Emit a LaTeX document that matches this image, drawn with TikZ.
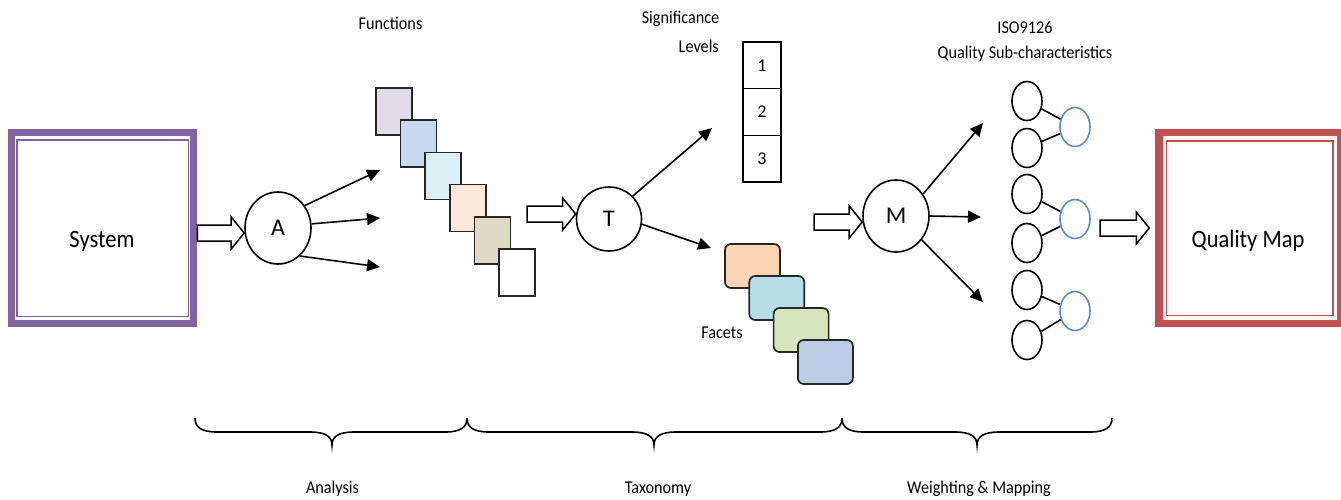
\documentclass[tikz,border=0pt]{standalone}
\usepackage{fontspec}
\setmainfont{Carlito}
\usepackage{graphicx}
\usetikzlibrary{arrows.meta,calc,shapes.geometric}
\definecolor{sysPurple}{HTML}{8064A2}
\definecolor{qmRed}{HTML}{C0504D}
\definecolor{subBlue}{HTML}{5B8CC8}
\definecolor{fnA}{HTML}{E1DBEA}
\definecolor{fnB}{HTML}{C6D9F0}
\definecolor{fnC}{HTML}{DAEEF3}
\definecolor{fnD}{HTML}{FDE9D9}
\definecolor{fnE}{HTML}{DDD9C4}
\definecolor{fcA}{HTML}{FBD4B4}
\definecolor{fcB}{HTML}{B7DEE8}
\definecolor{fcC}{HTML}{D7E4BD}
\definecolor{fcD}{HTML}{B9CDE5}
\newcommand{\nar}[1]{\scalebox{0.9}[1]{#1}}
\newcommand{\fatarrow}[2]{%
  \draw[fatarr] let \p1=(#1), \p2=(#2) in
    (\x1,\y1+8pt) -- (\x2-13pt,\y1+8pt) -- (\x2-13pt,\y1+16pt) -- (\x2,\y1)
    -- (\x2-13pt,\y1-16pt) -- (\x2-13pt,\y1-8pt) -- (\x1,\y1-8pt) -- cycle;}
\newcommand{\curlybrace}[3]{%
  \draw[brc] (#1,418) .. controls (#1,427) and (#1+6,432) .. (#1+22,432)
    -- (#2-22,432) .. controls (#2-6,432) and (#2,437) .. (#2,445)
    .. controls (#2,437) and (#2+6,432) .. (#2+22,432)
    -- (#3-22,432) .. controls (#3-6,432) and (#3,427) .. (#3,418);}
\tikzset{
  bigbox/.style={rectangle, draw, line width=7.5pt, minimum width=182pt, minimum height=191pt, inner sep=0pt},
  innerbox/.style={line width=1.5pt},
  bigtxt/.style={font=\fontsize{25}{30}\selectfont, inner sep=0pt},
  proc/.style={ellipse, draw, line width=1.6pt, inner sep=0pt, font=\fontsize{24}{28}\selectfont},
  fnbox/.style={rectangle, draw=black!85, line width=1.7pt, minimum width=36pt, minimum height=47pt, inner sep=0pt},
  facet/.style={rectangle, rounded corners=6pt, draw=black!85, line width=1.7pt, minimum width=55pt, minimum height=44pt, inner sep=0pt},
  level/.style={rectangle, draw, line width=1.6pt, minimum width=38pt, minimum height=46.7pt, inner sep=0pt, font=\fontsize{18}{21}\selectfont},
  sub/.style={ellipse, draw, line width=1.6pt, minimum width=30pt, minimum height=39pt, inner sep=0pt},
  subline/.style={line width=1.6pt},
  arr/.style={line width=1.6pt, -{Triangle[length=13pt,width=12pt]}},
  lab/.style={font=\fontsize{18}{21}\selectfont, inner sep=0pt, anchor=base},
  fatarr/.style={draw, line width=1.5pt, fill=white, line join=miter},
  brc/.style={line width=1.6pt},
}
\begin{document}
\begin{tikzpicture}[x=1pt,y=-1pt]
\useasboundingbox (0,0) rectangle (1341,499);

% big boxes
\node[bigbox, draw=sysPurple] (sys) at (102.5,228) {};
\draw[innerbox, draw=sysPurple] ($(sys.north west)+(9,11)$) rectangle ($(sys.south east)+(-9,-11)$);
\node[bigtxt, anchor=base] (systxt) at (102,247) {\nar{System}};

\node[bigbox, draw=qmRed] (qm) at (1250,228) {};
\draw[innerbox, draw=qmRed] ($(qm.north west)+(11,12)$) rectangle ($(qm.south east)+(-12,-12)$);
\node[bigtxt, anchor=base] (qmtxt) at (1248,247) {\nar{Quality Map}};

% process circles
\node[proc, minimum width=66pt, minimum height=72pt] (A) at (278,228) {A};
\node[proc, minimum width=65pt, minimum height=64pt] (T) at (609,219) {T};
\node[proc, minimum width=66pt, minimum height=72pt] (M) at (896,216) {M};

% function squares
\node[fnbox, fill=fnA] (f1) at (394,111.5) {};
\node[fnbox, fill=fnB] (f2) at (418.6,143.7) {};
\node[fnbox, fill=fnC] (f3) at (443.2,175.9) {};
\node[fnbox, fill=fnD] (f4) at (467.8,208.1) {};
\node[fnbox, fill=fnE] (f5) at (492.4,240.3) {};
\node[fnbox, fill=white] (f6) at (517,272.5) {};
\node[lab] (funT) at (390.5,29) {\nar{Functions}};

% significance levels
\node[level] (s1) at (762,65.3) {1};
\node[level] (s2) at (762,112) {2};
\node[level] (s3) at (762,158.7) {3};
\node[lab] (sigT) at (680.5,23) {\nar{Significance}};
\node[lab, anchor=base east] (levT) at (719,52) {\nar{Levels}};

% facets
\node[facet, fill=fcA] (k1) at (752.5,266) {};
\node[facet, fill=fcB] (k2) at (776.8,298) {};
\node[facet, fill=fcC] (k3) at (801.1,330) {};
\node[facet, fill=fcD] (k4) at (825.4,362) {};
\node[lab] (facT) at (722,338) {\nar{Facets}};

% sub-characteristics
\foreach \i/\y in {1/101,2/148,3/194,4/243,5/290,6/340}
  \node[sub] (c\i) at (1027,\y) {};
\foreach \i/\y in {1/127,2/219,3/311}
  \node[sub, draw=subBlue] (b\i) at (1075,\y) {};
\draw[subline] (c1) -- (b1);
\draw[subline] (c2) -- (b1);
\draw[subline] (c3) -- (b2);
\draw[subline] (c4) -- (b2);
\draw[subline] (c5) -- (b3);
\draw[subline] (c6) -- (b3);
\node[lab] (isoT) at (1025,33) {\nar{ISO9126}};
\node[lab] (qscT) at (1025,58) {\nar{Quality Sub-characteristics}};

% arrow ends
\coordinate (a1) at (380,170);
\coordinate (a2) at (380,218);
\coordinate (a3) at (380,267);
\coordinate (t1) at (712,128);
\coordinate (t2) at (711,248);
\coordinate (m1) at (983,123);
\coordinate (m2) at (981,217);
\coordinate (m3) at (983,302);
\draw[arr] (A.40) -- (a1);
\draw[arr] (A.7) -- (a2);
\draw[arr] (A.-52) -- (a3);
\draw[arr] (T.44) -- (t1);
\draw[arr] (T.-9) -- (t2);
\draw[arr] (M.39) -- (m1);
\draw[arr] (M.0) -- (m2);
\draw[arr] (M.-43) -- (m3);

% open block arrows
\coordinate (fs) at (527,214);
\coordinate (ms) at (814,222);
\coordinate (qs) at (1100,228);
\fatarrow{$(sys.east)+(0,5)$}{A.west}
\fatarrow{fs}{T.west}
\fatarrow{ms}{M.west}
\fatarrow{qs}{$(qm.west)+(-6,0)$}

% braces
\curlybrace{195}{332}{467}
\curlybrace{467}{654}{842}
\curlybrace{842}{977}{1112}
\node[lab] (anT) at (332.5,493) {\nar{Analysis}};
\node[lab] (taT) at (658,493) {\nar{Taxonomy}};
\node[lab] (wmT) at (979,493) {\nar{Weighting \& Mapping}};
\end{tikzpicture}
\end{document}
